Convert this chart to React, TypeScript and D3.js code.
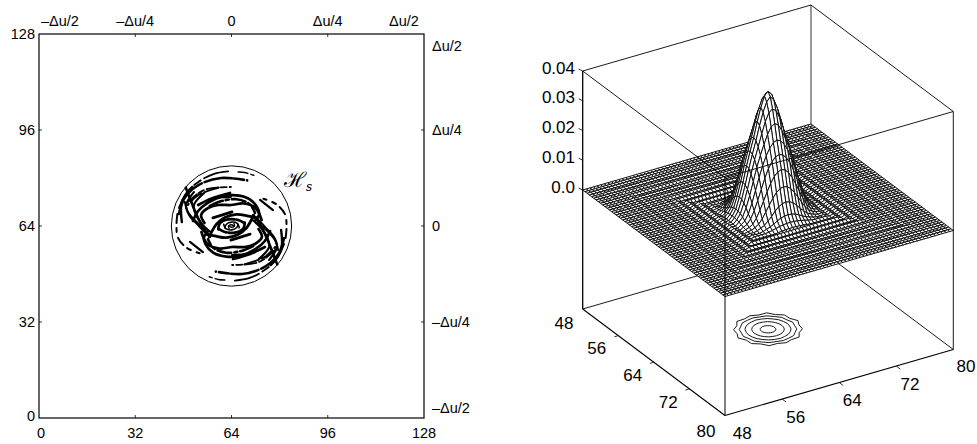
import React from "react";
import * as d3 from "d3";

const W = 977, H = 444;

// ---- left panel data ----
const gridTicks = [0, 32, 64, 96, 128];
const bottomLabels = ["0", "32", "64", "96", "128"];
const leftLabels = ["0", "32", "64", "96", "128"];
const topLabels = ["–Δu/2", "–Δu/4", "0", "Δu/4", "Δu/2"];
const rightLabels = ["–Δu/2", "–Δu/4", "0", "Δu/4", "Δu/2"];
const supportRadius = 20;
// strands of the sampled hologram, in grid units; the other half is its point reflection
type Strand = { pts: number[][]; w: number; dash?: string };
const strandsHalf: Strand[] = [
  { pts: [[46.5,70],[49,75],[53,78.7],[58.2,81.4],[63.8,82.3]], w: 1.8, dash: "25 3 8 4" },
  { pts: [[46.5,68],[48.5,73.5],[53.3,77.8],[60.5,80],[69.2,79.2]], w: 2.6, dash: "28 2 10 3" },
  { pts: [[49.5,72],[54.9,76],[63.8,77]], w: 1.8, dash: "12 2 6 3" },
  { pts: [[66.2,82],[68.4,81.8],[71.4,80.9]], w: 1.5, dash: "10 3" },
  { pts: [[72,67],[75.1,63.7],[78.1,60.3],[79.1,57],[76.5,52.7]], w: 2.2 },
  { pts: [[71,66],[73.5,63.7],[75.8,60.3],[76.5,57],[73.1,53]], w: 2.2 },
  { pts: [[54,62],[56,58],[60,56.5],[64.2,57],[68.5,57],[71.8,58],[74.1,60.3],[73,63]], w: 2.7 },
  { pts: [[64.2,54.3],[69.8,54.7],[71.8,55.3]], w: 2.2, dash: "8 2" },
  { pts: [[68.5,51.3],[75.1,53.7],[78.5,57]], w: 2, dash: "14 3" },
  { pts: [[48.8,76.8],[50.3,72.9],[52.3,67.9],[54.6,63.4],[56.8,60.4]], w: 2.6 },
  { pts: [[48.5,72],[49.5,68.7],[53.5,64.3]], w: 2 },
  { pts: [[52.9,71],[57.8,73.3],[63.5,75]], w: 2.7 },
  { pts: [[57.8,66.7],[64.2,68.7]], w: 2.7 },
  { pts: [[51,77],[47.5,72],[47.5,65.3]], w: 2.4 },
  { pts: [[46,68],[45.7,64],[46.2,60.1],[49,56.8],[53.4,54.9]], w: 2, dash: "9 5 4 6" },
  { pts: [[51.2,65.7],[52.9,69],[56.2,71.8],[60.7,73.8],[65.7,74.2],[70.1,72.9],[72.6,70.1],[73.2,67.9],[71.8,65.7]], w: 2.7 },
  { pts: [[56.8,70.7],[60.7,72.3],[65.7,72.9],[70.1,71.2],[71.8,68.4]], w: 2.6, dash: "14 3 3 3" },
  { pts: [[56.6,60.4],[59,64.6],[61.8,66.8],[65.7,67.9],[69.6,67.3],[72.1,66.8]], w: 2.8 },
  { pts: [[59.6,62.9],[60.1,64.9],[62.9,66.2],[66.2,66],[68.4,64.9]], w: 2.7, dash: "10 2" },
  { pts: [[61.8,63.4],[62.3,64.6],[64,65.3],[65.9,64.9],[66.6,63.4]], w: 1.6 },
  { pts: [[63.2,63.1],[63,64],[64,64.4],[64.8,64]], w: 1.4 },
  { pts: [[50.2,58.7],[54.5,55.3]], w: 2.2 },
];

// ---- right panel data ----
const zTicks = [0, 0.01, 0.02, 0.03, 0.04];
const zLabels = ["0.0", "0.01", "0.02", "0.03", "0.04"];
const floorTicks = [48, 56, 64, 72, 80];
const floorLabels = ["48", "56", "64", "72", "80"];
// height of the peak against distance from (64,64)
const peakRadius = [0, 0.5, 1, 1.5, 2, 2.5, 3, 3.5, 4, 4.5, 5, 5.5, 6, 32];
const peakHeight = [0.04, 0.0387, 0.0352, 0.0308, 0.0258, 0.0215, 0.017, 0.0118, 0.0072, 0.0035, 0.0014, 0.0005, 0, 0];
// side-lobe height on square rings, by half-unit distance
const ringRipple = [
  0,0,0,0,0,0,0,0,0,0,
  0.00012,-0.00018,0.00025,-0.00025,0.00025,-0.0002,0.00018,-0.00012,0.00008,-0.00008,
  0.00005,-0.00005,0.00005,-0.0001,0.0001,-0.00005,0.00005,-0.00005,0.00005,-0.00005,
  0,0,0,
];
// contour radii at equal angles round the peak, outer to inner
const contourA = [4.2,3.85,4.1,3.8,4.2,3.85,4.05,3.8,4.2,3.85,4.15,3.8,4.2,3.85,4.1,3.8,4.2,3.85,4.05,3.8,4.2,3.85,4.15,3.8];
const contourB = [3.45,3.3,3.42,3.32,3.45,3.35,3.4,3.3,3.42,3.34,3.45,3.3,3.45,3.3,3.42,3.32,3.45,3.35,3.4,3.3,3.42,3.34,3.45,3.3];
const contourC = [2.74,2.7,2.74,2.72,2.74,2.7,2.76,2.72,2.74,2.7,2.74,2.72,2.74,2.7,2.74,2.72,2.74,2.7,2.76,2.72,2.74,2.7,2.74,2.72];
const contourD = [1.93,1.93,1.94,1.93,1.93,1.92,1.93,1.93,1.94,1.93,1.93,1.92,1.93,1.93,1.94,1.93,1.93,1.92,1.93,1.93,1.94,1.93,1.93,1.92];
const contourE = [0.93,0.93,0.93,0.93,0.93,0.93,0.93,0.93,0.93,0.93,0.93,0.93,0.93,0.93,0.93,0.93,0.93,0.93,0.93,0.93,0.93,0.93,0.93,0.93];
const contours = [contourA, contourB, contourC, contourD, contourE];
const meshStep = 0.5;

// ---- scales ----
const xL = d3.scaleLinear().domain([0, 128]).range([39, 424]);
const yL = d3.scaleLinear().domain([0, 128]).range([418, 34]);
const curve = d3.line<number[]>().x(d => xL(d[0])).y(d => yL(d[1])).curve(d3.curveCatmullRom.alpha(0.5));
const peakScale = d3.scaleLinear().domain(peakRadius).range(peakHeight).clamp(true);

const tU = d3.scaleLinear().domain([48, 80]).range([0, 1]);
const tV = d3.scaleLinear().domain([48, 80]).range([0, 1]);
const zS = d3.scaleLinear().domain([0, 0.04]).range([0, 119]);
const ORIGIN = [582.7, 190];
const project = (u: number, v: number, z: number): [number, number] => {
  const a = tU(u), b = tV(v);
  return [ORIGIN[0] + a * 228.3 + b * 142.3, ORIGIN[1] - a * 66 + b * 106.5 - zS(z)];
};
const height = (u: number, v: number) => {
  const dx = u - 64, dy = v - 64;
  const r = Math.hypot(dx, dy);
  const ring = ringRipple[Math.round(Math.max(Math.abs(dx), Math.abs(dy)) / meshStep)] ?? 0;
  return peakScale(r) + ring;
};

const fontL = "'Liberation Sans', Arial, sans-serif";
const seg = (p: [number, number], q: [number, number]) => `M${p[0]},${p[1]}L${q[0]},${q[1]}`;

function LeftPanel() {
  const strands = strandsHalf.concat(strandsHalf.map(s => ({ ...s, pts: s.pts.map(p => [128 - p[0], 128 - p[1]]) })));
  const topShift = [21, 0, 0, 0, -20];
  const rightY = [-10, 0, 0, 0, 12];
  const leftY = [-2, 0, 0, 0, 0];
  return (
    <g fontFamily={fontL} fill="#000">
      <rect x={xL(0)} y={yL(128)} width={xL(128) - xL(0)} height={yL(0) - yL(128)} fill="none" stroke="#000" strokeWidth={1.2} />
      {gridTicks.slice(1, 4).map(t => (
        <g key={t} stroke="#000" strokeWidth={0.8}>
          <line x1={xL(t)} x2={xL(t)} y1={yL(0)} y2={yL(0) - 3} />
          <line x1={xL(t)} x2={xL(t)} y1={yL(128)} y2={yL(128) + 3} />
          <line y1={yL(t)} y2={yL(t)} x1={xL(0)} x2={xL(0) + 3} />
          <line y1={yL(t)} y2={yL(t)} x1={xL(128)} x2={xL(128) - 3} />
        </g>
      ))}
      {gridTicks.map((t, i) => (
        <g key={t} fontSize={14.5}>
          <text x={xL(t) + (i === 0 ? 2 : 0)} y={438} textAnchor="middle">{bottomLabels[i]}</text>
          <text x={35} y={yL(t) + 5 + leftY[i]} textAnchor="end">{leftLabels[i]}</text>
          <text x={xL(t) + topShift[i]} y={26} textAnchor="middle">{topLabels[i]}</text>
          <text x={432} y={yL(t) + 5 + rightY[i]} textAnchor="start">{rightLabels[i]}</text>
        </g>
      ))}
      <circle cx={xL(64)} cy={yL(64)} r={xL(64 + supportRadius) - xL(64)} fill="none" stroke="#000" strokeWidth={1} />
      {strands.map((s, i) => (
        <path key={i} d={curve(s.pts) ?? ""} fill="none" stroke="#000" strokeWidth={s.w} strokeDasharray={s.dash} strokeLinecap="round" />
      ))}
      <text x={284} y={187} fontFamily="'DejaVu Serif', serif" fontSize={21}>ℋ</text>
      <text x={306} y={191} fontFamily="'DejaVu Serif', serif" fontStyle="italic" fontSize={12}>s</text>
    </g>
  );
}

function RightPanel() {
  const cells: React.ReactElement[] = [];
  const grid = d3.range(48, 80 + meshStep / 2, meshStep);
  const pts = grid.map(u => grid.map(v => project(u, v, height(u, v))));
  for (let i = grid.length - 2; i >= 0; i--) {
    for (let j = 0; j < grid.length - 1; j++) {
      const a = pts[i][j], b = pts[i + 1][j], c = pts[i + 1][j + 1], d = pts[i][j + 1];
      cells.push(
        <path key={`${i}-${j}`} d={`M${a[0].toFixed(2)},${a[1].toFixed(2)}L${b[0].toFixed(2)},${b[1].toFixed(2)}L${c[0].toFixed(2)},${c[1].toFixed(2)}L${d[0].toFixed(2)},${d[1].toFixed(2)}Z`} />
      );
    }
  }
  const floorZ = -0.04, topZ = 0.04;
  const contourLine = d3.line<number>()
    .x((r, k) => project(64 + r * Math.cos((k * Math.PI) / 12), 64 + r * Math.sin((k * Math.PI) / 12), floorZ)[0])
    .y((r, k) => project(64 + r * Math.cos((k * Math.PI) / 12), 64 + r * Math.sin((k * Math.PI) / 12), floorZ)[1])
    .curve(d3.curveLinearClosed);
  const P = (u: number, v: number, z: number) => project(u, v, z);
  const tickTxtLeft = [[564, 322.7], [596.7, 348.3], [632.7, 375], [668.3, 401.7], [706, 430.7]];
  const tickTxtRight = [[742.3, 433.3], [795.7, 417.3], [852.3, 400], [910, 384.3], [966, 366]];
  const zLabelY = [187, 157, 127, 97, 68];
  return (
    <g fontFamily={fontL} fill="#000">
      <g stroke="#000" fill="none">
        <path d={seg(P(48, 48, floorZ), P(80, 48, floorZ))} strokeWidth={0.9} />
        <path d={seg(P(80, 48, floorZ), P(80, 80, floorZ))} strokeWidth={0.9} />
        <path d={seg(P(80, 48, floorZ), P(80, 48, topZ))} strokeWidth={1.1} stroke="#444" />
        <path d={seg(P(48, 48, topZ), P(80, 48, topZ))} strokeWidth={0.9} />
        <path d={seg(P(80, 48, topZ), P(80, 80, topZ))} strokeWidth={0.9} />
      </g>
      <g fill="none" stroke="#000" strokeWidth={0.9}>
        {contours.map((c, i) => <path key={i} d={contourLine(c) ?? ""} />)}
      </g>
      <g fill="#fff" stroke="#111" strokeWidth={1}>{cells}</g>
      <g stroke="#000" fill="none">
        <path d={seg(P(48, 48, topZ), P(48, 80, topZ))} strokeWidth={0.9} />
        <path d={seg(P(48, 80, topZ), P(80, 80, topZ))} strokeWidth={0.9} />
        <path d={seg(P(48, 80, topZ), P(48, 80, floorZ))} strokeWidth={1} />
        <path d={seg(P(48, 48, topZ), P(48, 48, floorZ))} strokeWidth={1.3} />
        <path d={seg(P(80, 80, topZ), P(80, 80, floorZ))} strokeWidth={0.9} />
        <path d={seg(P(48, 48, floorZ), P(48, 80, floorZ))} strokeWidth={1.1} />
        <path d={seg(P(48, 80, floorZ), P(80, 80, floorZ))} strokeWidth={1.1} />
      </g>
      <g stroke="#000" strokeWidth={0.8}>
        {zTicks.map(z => {
          const p = P(48, 48, z);
          return <line key={z} x1={p[0]} y1={p[1]} x2={p[0] - 4} y2={p[1] - 2} />;
        })}
        {floorTicks.slice(1, 4).map(t => {
          const p = P(48, t, floorZ), q = P(t, 80, floorZ);
          return (
            <g key={t}>
              <line x1={p[0]} y1={p[1]} x2={p[0] - 4} y2={p[1] + 1.2} />
              <line x1={q[0]} y1={q[1]} x2={q[0] + 4} y2={q[1] + 3} />
            </g>
          );
        })}
      </g>
      <g fontSize={17}>
        {zTicks.map((z, i) => (
          <text key={z} x={575} y={zLabelY[i] + 6} textAnchor="end">{zLabels[i]}</text>
        ))}
        {floorTicks.map((t, i) => (
          <g key={t}>
            <text x={tickTxtLeft[i][0]} y={tickTxtLeft[i][1] + 6} textAnchor="middle">{floorLabels[i]}</text>
            <text x={tickTxtRight[i][0]} y={tickTxtRight[i][1] + 6} textAnchor="middle">{floorLabels[i]}</text>
          </g>
        ))}
      </g>
    </g>
  );
}

export default function App() {
  return (
    <svg width={W} height={H} viewBox={`0 0 ${W} ${H}`} style={{ position: "absolute", left: 0, top: 0, background: "#fff" }}>
      <LeftPanel />
      <RightPanel />
    </svg>
  );
}
